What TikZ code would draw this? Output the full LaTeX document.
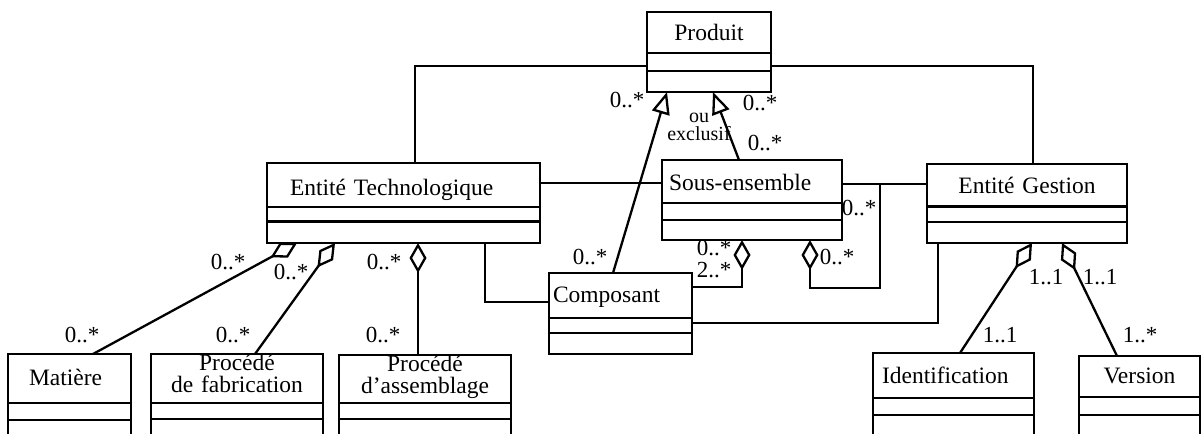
\documentclass[tikz,border=0pt]{standalone}
\usepackage{fontspec}
\setmainfont{Liberation Serif}
\usetikzlibrary{arrows.meta}

\newcommand{\clsfont}{\fontsize{23.5}{22}\selectfont}
\newcommand{\mulfont}{\fontsize{23}{16}\selectfont}

\tikzset{
  umlbox/.style={draw, line width=2.5pt, anchor=north west, inner ysep=0pt, outer sep=0pt, font=\clsfont},
  compart/.style 2 args={path picture={
      \draw[line width=2.5pt] ([yshift=-#1]path picture bounding box.north west) -- ([yshift=-#1]path picture bounding box.north east)
                              ([yshift=-#2]path picture bounding box.north west) -- ([yshift=-#2]path picture bounding box.north east);}},
  mult/.style={inner sep=0pt, font=\mulfont},
  assoc/.style={line width=2.3pt},
  aggr/.style={line width=2.3pt, -{Diamond[open, length=30pt, width=17pt]}},
  gener/.style={line width=2.3pt, -{Triangle[open, length=22pt, width=18pt]}},
}

\begin{document}
\begin{tikzpicture}[x=1pt, y=-1pt]
            \useasboundingbox (0,0) rectangle (1203,434);
            \clip (0,0) rectangle (1203,434);

            % Upper classes
            \node[umlbox, text width=116pt, inner xsep=4pt, align=center, text height=28pt, text depth=52pt, compart={41pt}{59pt}] (produit) at (647,12) {Produit};
            \node[umlbox, text width=227pt, inner xsep=23pt, align=left, text height=32pt, text depth=48pt, compart={44pt}{58.5pt}] (tech) at (267,163) {Entité Technologique};
            \node[umlbox, text width=166pt, inner xsep=7pt, align=left, text height=30pt, text depth=50pt, compart={43pt}{60pt}] (sousens) at (662,160) {Sous-ensemble};
            \node[umlbox, text width=192pt, inner xsep=4pt, align=center, text height=29pt, text depth=50pt, compart={42.5pt}{58pt}] (gestion) at (927,164) {Entité Gestion};
            \node[umlbox, text width=135pt, inner xsep=4pt, align=left, text height=29pt, text depth=52pt, compart={45pt}{60pt}] (composant) at (549,273) {Composant};

            % Lower classes
            \node[umlbox, text width=81pt, inner xsep=21pt, align=left, text height=31pt, text depth=59pt, compart={49pt}{66pt}] (matiere) at (8,354) {Matière};
            \node[umlbox, text width=160pt, inner xsep=6pt, align=center, text height=16pt, text depth=74pt, compart={49pt}{65pt}] (fabrication) at (151,354) {Procédé\\de fabrication};
            \node[umlbox, text width=160pt, inner xsep=6pt, align=center, text height=16pt, text depth=74pt, compart={48pt}{64pt}] (assemblage) at (339,355) {Procédé\\d'assemblage};
            \node[umlbox, text width=143pt, inner xsep=9pt, align=left, text height=30pt, text depth=60pt, compart={45pt}{62pt}] (ident) at (873,353) {Identification};
            \node[umlbox, text width=113pt, inner xsep=4pt, align=center, text height=27pt, text depth=63pt, compart={41pt}{59pt}] (version) at (1079,356) {Version};

            % Associations
            \draw[assoc] ([yshift=-14pt]produit.west) -| ([xshift=148pt]tech.north west);
            \draw[assoc] ([yshift=-14pt]produit.east) -| ([xshift=106pt]gestion.north west);
            \draw[assoc] ([yshift=20pt]tech.east) -- ([yshift=17pt]sousens.west);
            \draw[assoc] ([yshift=16pt]sousens.east) -- ([yshift=19.5pt]gestion.west);
            \draw[assoc] ([xshift=218pt]tech.south west) |- ([yshift=11.5pt]composant.west);
            \draw[assoc] ([xshift=11pt]gestion.south west) |- ([yshift=-9.5pt]composant.east);

            % Generalisations
            \draw[gener] ([xshift=64pt]composant.north west) -- ([xshift=20pt]produit.south west);
            \draw[gener] ([xshift=77pt]sousens.north west) -- ([xshift=66pt]produit.south west);

            % Aggregations
            \draw[aggr] ([xshift=85pt]matiere.north west) -- ([xshift=30pt]tech.south west);
            \draw[aggr] ([xshift=104pt]fabrication.north west) -- ([xshift=68pt]tech.south west);
            \draw[aggr] ([xshift=79pt]assemblage.north west) -- ([xshift=151pt]tech.south west);
            \draw[aggr] ([xshift=87pt]ident.north west) -- ([xshift=105pt]gestion.south west);
            \draw[aggr] ([xshift=38pt]version.north west) -- ([xshift=135pt]gestion.south west);
            \draw[aggr] ([yshift=26.5pt]composant.east) -| ([xshift=80pt]sousens.south west);
            \draw[aggr] ([xshift=38pt,yshift=16pt]sousens.east) |- ([xshift=148pt,yshift=-48pt]sousens.south west) -- ([xshift=148pt]sousens.south west);

            % Multiplicities
            \node[mult] (mprodcomp) at (627,100) {0..*};
            \node[mult] (mprodse) at (760,103) {0..*};
            \node[mult] (msepro) at (765,143) {0..*};
            \node[mult, font=\fontsize{20}{18}\selectfont, align=center] (exclu) at (699,127) {ou\\exclusif};
            \node[mult] (mseself) at (859,208) {0..*};
            \node[mult] (mseselfb) at (837,257) {0..*};
            \node[mult] (mcomppro) at (590,257) {0..*};
            \node[mult] (msecomp) at (714,248) {0..*};
            \node[mult] (mcompse) at (714,270) {2..*};
            \node[mult] (mtechmat) at (228,262) {0..*};
            \node[mult] (mmat) at (82,335) {0..*};
            \node[mult] (mtechfab) at (291,272) {0..*};
            \node[mult] (mfab) at (233,335) {0..*};
            \node[mult] (mtechass) at (384,262) {0..*};
            \node[mult] (mass) at (383,335) {0..*};
            \node[mult] (mgestid) at (1046,277) {1..1};
            \node[mult] (mid) at (1000,335) {1..1};
            \node[mult] (mgestver) at (1100,277) {1..1};
            \node[mult] (mver) at (1140,335) {1..*};
        \end{tikzpicture}
\end{document}
